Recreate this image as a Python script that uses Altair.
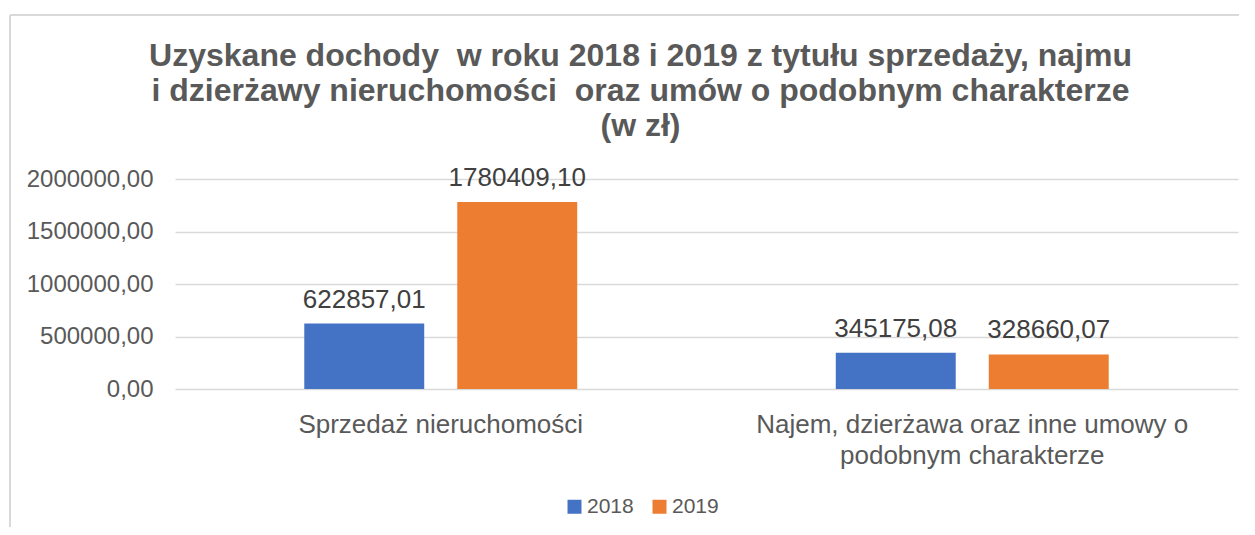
import altair as alt
import pandas as pd

categories = ["Sprzedaż nieruchomości",
              "Najem, dzierżawa oraz inne umowy o podobnym charakterze"]
years = ["2018", "2019"]
values_2018 = [622857.01, 345175.08]
values_2019 = [1780409.10, 328660.07]

rows = []
for i, c in enumerate(categories):
    rows.append({"kategoria": c, "rok": years[0], "wartosc": values_2018[i]})
    rows.append({"kategoria": c, "rok": years[1], "wartosc": values_2019[i]})
df = pd.DataFrame(rows)

FONT = "Liberation Sans"
GRAY = "#595959"

x = alt.X("kategoria:N", sort=categories, title=None,
          scale=alt.Scale(paddingInner=0, paddingOuter=0),
          axis=alt.Axis(labelAngle=0, domain=False, ticks=False, labelPadding=22,
                        labelFontSize=26, labelColor=GRAY, labelFont=FONT,
                        labelLineHeight=31, labelLimit=700,
                        labelExpr="datum.label == 'Najem, dzierżawa oraz inne umowy o podobnym charakterze' ? ['Najem, dzierżawa oraz inne umowy o', 'podobnym charakterze'] : datum.label"))
xo = alt.XOffset("rok:N", scale=alt.Scale(paddingInner=0.216, paddingOuter=0.845))
y = alt.Y("wartosc:Q", title=None,
          scale=alt.Scale(domain=[0, 2000000]),
          axis=alt.Axis(values=[0, 500000, 1000000, 1500000, 2000000],
                        labelExpr="replace(format(datum.value, '.2f'), '.', ',')",
                        domain=False, ticks=False, labelPadding=22,
                        labelFontSize=24, labelColor=GRAY, labelFont=FONT,
                        gridColor="#d9d9d9", gridWidth=1.5))

color = alt.Color("rok:N", scale=alt.Scale(domain=years, range=["#4472C4", "#ED7D31"]),
                  legend=alt.Legend(orient="none", legendX=389, legendY=317,
                                    direction="horizontal", title=None,
                                    symbolType="square", symbolSize=196,
                                    symbolStrokeWidth=0, labelFontSize=21,
                                    labelColor=GRAY, labelFont=FONT,
                                    columnPadding=15, labelOffset=2))

base = alt.Chart(df)
bars = base.mark_bar().encode(x=x, xOffset=xo, y=y, color=color)
labels = base.transform_calculate(
    lbl="replace(format(datum.wartosc, '.2f'), '.', ',')"
).mark_text(dy=-16, baseline="alphabetic", fontSize=26, color="#404040", font=FONT).encode(
    x=x, xOffset=xo, y=y, text="lbl:N")

# chart frame (light gray border at top and left, as in the source image)
frame_top = alt.Chart(df).mark_rule(color="#d9d9d9", strokeWidth=1.5, clip=False).encode(
    x=alt.value(-165), x2=alt.value(1080), y=alt.value(-164))
frame_left = alt.Chart(df).mark_rule(color="#d9d9d9", strokeWidth=1.5, clip=False).encode(
    x=alt.value(-165), y=alt.value(-164), y2=alt.value(360))

chart = (frame_top + frame_left + bars + labels).properties(
    width=1063, height=210,
    autosize=alt.AutoSizeParams(type="none"),
    padding={"left": 167, "top": 171, "right": 1, "bottom": 138},
    title=alt.TitleParams(
        ["Uzyskane dochody \u00a0w roku 2018 i 2019 z tytułu sprzedaży, najmu",
         "i dzierżawy nieruchomości \u00a0oraz umów o podobnym charakterze",
         "(w zł)"],
        fontSize=32, font=FONT, fontWeight="bold", color=GRAY,
        lineHeight=35, anchor="middle", offset=25, dx=-66, dy=154),
).configure_view(stroke=None)

chart.save("out.html", embed_options={"renderer": "svg", "actions": False})
